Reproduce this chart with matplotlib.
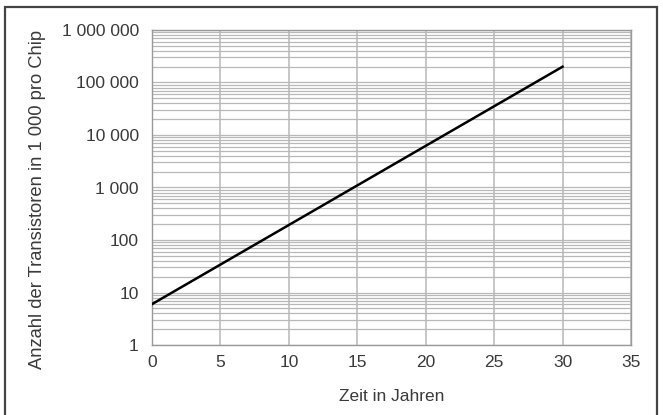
import matplotlib
matplotlib.use("Agg")
import matplotlib.pyplot as plt
from matplotlib.patches import Rectangle
from matplotlib.ticker import FixedLocator, LogLocator, NullFormatter

plt.rcParams['font.family'] = ['Liberation Sans', 'DejaVu Sans']

# Transistor count (in 1 000 per chip) over time
years = [0, 30]
transistors = [6, 200000]

ytick_vals = [1, 10, 100, 1000, 10000, 100000, 1000000]
ytick_labels = ['1', '10', '100', '1 000', '10 000', '100 000', '1 000 000']
xtick_vals = [0, 5, 10, 15, 20, 25, 30, 35]

text_col = '#3a3a3a'
grid_col = '#b8b8b8'
fs = 12.5

fig = plt.figure(figsize=(6.63, 4.15), dpi=100)
left, right, top, bottom = 152, 631, 30, 345
ax = fig.add_axes([left / 663, 1 - bottom / 415, (right - left) / 663, (bottom - top) / 415])

ax.plot(years, transistors, color='black', lw=1.8, zorder=3)

ax.set_yscale('log')
ax.set_xlim(0, 35)
ax.set_ylim(1, 1000000)
ax.yaxis.set_major_locator(FixedLocator(ytick_vals))
ax.set_yticklabels(ytick_labels)
ax.yaxis.set_minor_locator(LogLocator(base=10, subs=range(2, 10)))
ax.yaxis.set_minor_formatter(NullFormatter())
ax.set_xticks(xtick_vals)

ax.grid(True, which='both', axis='y', color=grid_col, lw=0.9)
ax.grid(True, which='major', axis='x', color=grid_col, lw=1.1)
ax.tick_params(which='both', length=0, labelsize=fs, labelcolor=text_col)
ax.tick_params(axis='y', pad=9.5)
ax.tick_params(axis='x', pad=7)
for s in ax.spines.values():
    s.set_color('#999999')
    s.set_linewidth(1.0)

ax.set_xlabel('Zeit in Jahren', fontsize=fs, color=text_col)
ax.set_ylabel('Anzahl der Transistoren in 1 000 pro Chip', fontsize=13.2, color=text_col)
ax.xaxis.set_label_coords(0.5, (bottom - 389) / (bottom - top))
ax.yaxis.set_label_coords((46 - left) / (right - left), (bottom - 199) / (bottom - top))

# frame around the whole figure
fig.patches.append(Rectangle((5 / 663, -0.02), (657 - 5) / 663, 1 - 7 / 415 + 0.02,
                             transform=fig.transFigure, fill=False,
                             edgecolor='#444444', lw=1.6))

fig.savefig('out.png', dpi=100)
